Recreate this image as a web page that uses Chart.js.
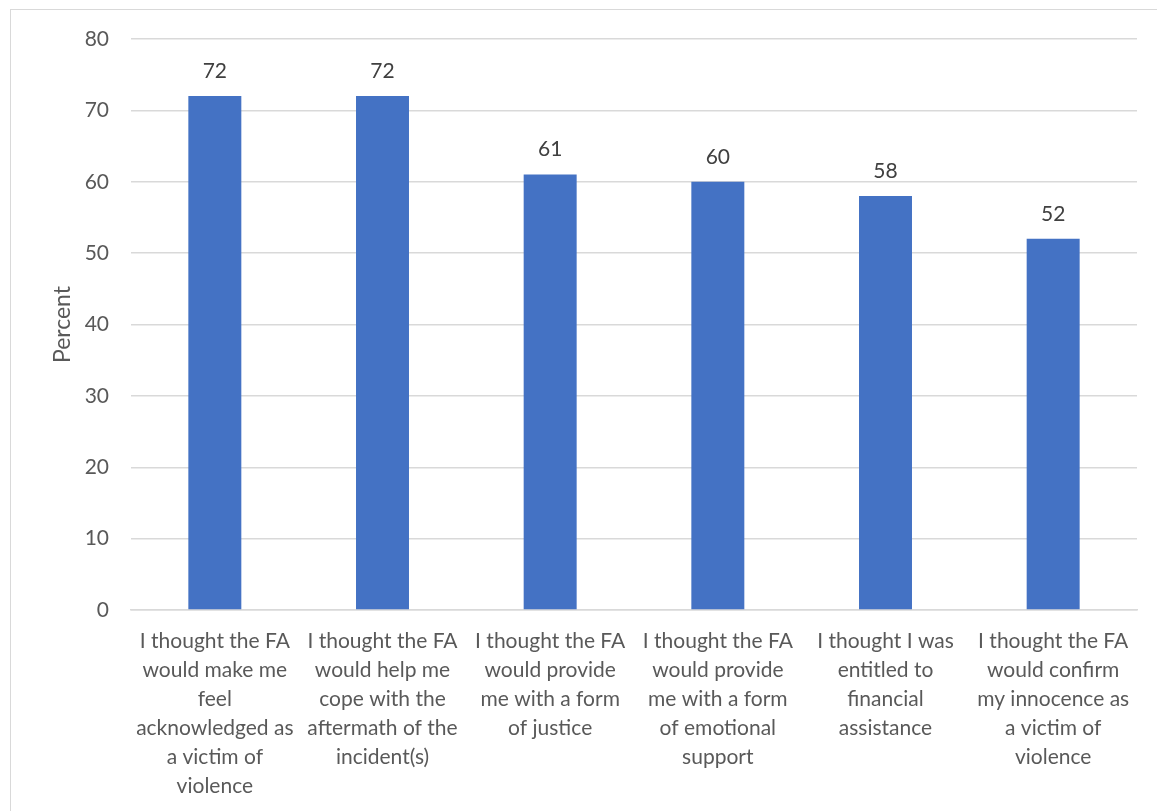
<!DOCTYPE html>
<html>
<head>
<meta charset="utf-8">
<script src="https://cdn.jsdelivr.net/npm/chart.js@4/dist/chart.umd.min.js"></script>
<style>
  html, body { margin: 0; padding: 0; background: #ffffff; }
  #wrap { position: relative; width: 1157px; height: 811px; overflow: hidden; }
  #frame { position: absolute; left: 10px; top: 9px; width: 1200px; height: 900px; border: 1.5px solid #d9d9d9; box-sizing: border-box; }
  canvas { position: absolute; left: 0; top: 0; }
</style>
</head>
<body>
<div id="wrap">
  <div id="frame"></div>
  <canvas id="chart" width="1157" height="811"></canvas>
</div>
<script>
// Reasons given for applying to the FA (percent of respondents)
const categories = [
  ["I thought the FA", "would make me", "feel", "acknowledged as", "a victim of", "violence"],
  ["I thought the FA", "would help me", "cope with the", "aftermath of the", "incident(s)"],
  ["I thought the FA", "would provide", "me with a form", "of justice"],
  ["I thought the FA", "would provide", "me with a form", "of emotional", "support"],
  ["I thought I was", "entitled to", "financial", "assistance"],
  ["I thought the FA", "would confirm", "my innocence as", "a victim of", "violence"]
];
const percentValues = [72, 72, 61, 60, 58, 52];
const yTicks = [0, 10, 20, 30, 40, 50, 60, 70, 80];

const FONT = "Lato, 'Open Sans', sans-serif";

// Writes each bar's value just above it
const valueLabels = {
  id: 'valueLabels',
  afterDatasetsDraw(chart) {
    const ctx = chart.ctx;
    const meta = chart.getDatasetMeta(0);
    ctx.save();
    ctx.font = "21px " + FONT;
    ctx.fillStyle = '#404040';
    ctx.textAlign = 'center';
    ctx.textBaseline = 'middle';
    meta.data.forEach((bar, i) => {
      ctx.fillText(String(chart.data.datasets[0].data[i]), bar.x, bar.y - 25);
    });
    ctx.restore();
  }
};

new Chart(document.getElementById('chart'), {
  type: 'bar',
  data: {
    labels: categories,
    datasets: [{
      data: percentValues,
      backgroundColor: '#4472C4',
      borderWidth: 0,
      barPercentage: 0.316,
      categoryPercentage: 1.0
    }]
  },
  options: {
    responsive: false,
    animation: false,
    devicePixelRatio: 1,
    layout: { padding: { left: 0, right: 20, top: 39, bottom: 0 } },
    plugins: {
      legend: { display: false },
      tooltip: { enabled: false }
    },
    scales: {
      x: {
        grid: { display: false, drawTicks: false },
        border: { display: true, color: '#d9d9d9', width: 1.5 },
        ticks: {
          color: '#595959',
          font: { family: FONT, size: 21, lineHeight: 1.38 },
          padding: 17,
          maxRotation: 0,
          autoSkip: false
        },
        afterFit(scale) { scale.height = 201; }
      },
      y: {
        min: 0,
        max: 80,
        afterBuildTicks(scale) { scale.ticks = yTicks.map(v => ({ value: v })); },
        grid: { color: '#d9d9d9', lineWidth: 1.5, drawTicks: false },
        border: { display: false },
        ticks: {
          color: '#595959',
          font: { family: FONT, size: 21 },
          padding: 22
        },
        title: {
          display: true,
          text: 'Percent',
          color: '#595959',
          font: { family: FONT, size: 23 },
          padding: { top: 49, bottom: 0 }
        },
        afterFit(scale) { scale.width = 131; }
      }
    }
  },
  plugins: [valueLabels]
});
</script>
</body>
</html>
